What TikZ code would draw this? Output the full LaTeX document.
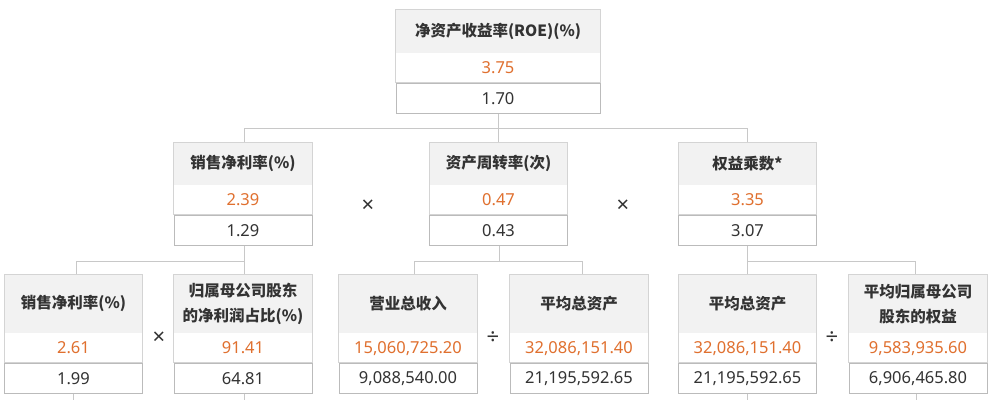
\documentclass[tikz,border=0pt]{standalone}
\usepackage{fontspec}
\setmainfont{Noto Sans CJK SC}
\newfontfamily\numfont{Noto Sans}
\usetikzlibrary{calc}
\definecolor{hdrfill}{HTML}{F2F2F2}
\definecolor{outerc}{HTML}{D4D4D4}
\definecolor{lastb}{HTML}{BBBBBB}
\definecolor{connc}{HTML}{C8C8C8}
\definecolor{orgc}{HTML}{E0702F}
\definecolor{txtc}{HTML}{333333}
\tikzset{
  hdr/.style={fill=hdrfill, inner sep=0pt, text=txtc, align=center, anchor=north,
    font=\fontsize{15.5}{25}\selectfont\bfseries},
  valrow/.style={fill=white, inner sep=0pt, minimum height=29pt, text=orgc, anchor=north,
    font=\numfont\fontsize{16.5}{18}\selectfont},
  lastrow/.style={draw=lastb, line width=1pt, fill=white, inner sep=0pt, minimum height=30pt,
    text=txtc, anchor=north, font=\numfont\fontsize{16.5}{18}\selectfont},
  outerbox/.style={draw=outerc, line width=1pt},
  conn/.style={draw=connc, line width=1pt},
  opsym/.style={text=txtc, inner sep=0pt, font=\numfont\fontsize{22}{24}\selectfont\bfseries},
}
\newcommand\kpibox[8]{%
  \node[hdr, minimum width=#4, minimum height=#5] (#1-h) at (#2,#3) {#6};
  \node[valrow, minimum width=#4] (#1-v) at (#1-h.south) {#7};
  \draw[outerbox] (#1-h.north west) rectangle (#1-v.south east);
  \node[lastrow, minimum width=#4] (#1-l) at (#1-v.south) {#8};
}
\begin{document}
\begin{tikzpicture}[x=1pt,y=-1pt]
\useasboundingbox[fill=white] (0,0) rectangle (1000,400);

% level 1
\kpibox{top}{498}{9}{204}{44}{净资产收益率(ROE)(\%)}{3.75}{1.70}
% level 2
\kpibox{ba}{243}{142}{138}{43}{销售净利率(\%)}{2.39}{1.29}
\kpibox{bb}{498.5}{142}{138}{43}{资产周转率(次)}{0.47}{0.43}
\kpibox{bc}{747.5}{142}{138}{43}{权益乘数*}{3.35}{3.07}
% level 3
\kpibox{ca}{73.5}{274}{138}{59}{销售净利率(\%)}{2.61}{1.99}
\kpibox{cb}{243}{274}{138}{59}{归属母公司股东\\的净利润占比(\%)}{91.41}{64.81}
\kpibox{cc}{408}{274}{138}{59}{营业总收入}{15,060,725.20}{9,088,540.00}
\kpibox{cd}{579}{274}{138}{59}{平均总资产}{32,086,151.40}{21,195,592.65}
\kpibox{ce}{747.5}{274}{138}{59}{平均总资产}{32,086,151.40}{21,195,592.65}
\kpibox{cf}{918}{274}{138}{59}{平均归属母公司\\股东的权益}{9,583,935.60}{6,906,465.80}

% operators
\node[opsym] (op1) at (368,206) {×};
\node[opsym] (op2) at (623,206) {×};
\node[opsym] (op3) at (159,338) {×};
\node[opsym] (op4) at (493,338) {÷};
\node[opsym] (op5) at (832,338) {÷};

% connectors level 1 -> 2
\coordinate (j1) at ($(top-l.south)+(0,15)$);
\draw[conn] (top-l.south) -- (j1);
\draw[conn] ($(ba-h.north)+(1,0)$) |- (j1) -| (bc-h.north);
\draw[conn] (j1) -- (j1 -| bb-h.north) -- (bb-h.north);

% connectors level 2 -> 3
\coordinate (ka) at ($(ba-l.south)+(1,16)$);
\draw[conn] ($(ba-l.south)+(1,0)$) -- (ka);
\draw[conn] ($(ca-h.north)+(2.5,0)$) |- (ka) -- ($(cb-h.north)+(1,0)$);

\coordinate (kb) at ($(bb-l.south)+(0.5,16)$);
\draw[conn] ($(bb-l.south)+(0.5,0)$) -- (kb);
\draw[conn] ($(cc-h.north)+(6,0)$) |- (kb) -| ($(cd-h.north)+(3,0)$);

\coordinate (kc) at ($(bc-l.south)+(0,16)$);
\draw[conn] (bc-l.south) -- (kc);
\draw[conn] (ce-h.north) -- (kc) -| ($(cf-h.north)+(-3,0)$);

% dangling lines below level 3
\coordinate (ea) at (73.5,400);
\coordinate (eb) at (244,400);
\coordinate (ee) at (747.5,400);
\coordinate (ef) at (916,400);
\draw[conn] (ca-l.south) -- (ea);
\draw[conn] ($(cb-l.south)+(1,0)$) -- (eb);
\draw[conn] (ce-l.south) -- (ee);
\draw[conn] ($(cf-l.south)+(-2,0)$) -- (ef);
\end{tikzpicture}
\end{document}
